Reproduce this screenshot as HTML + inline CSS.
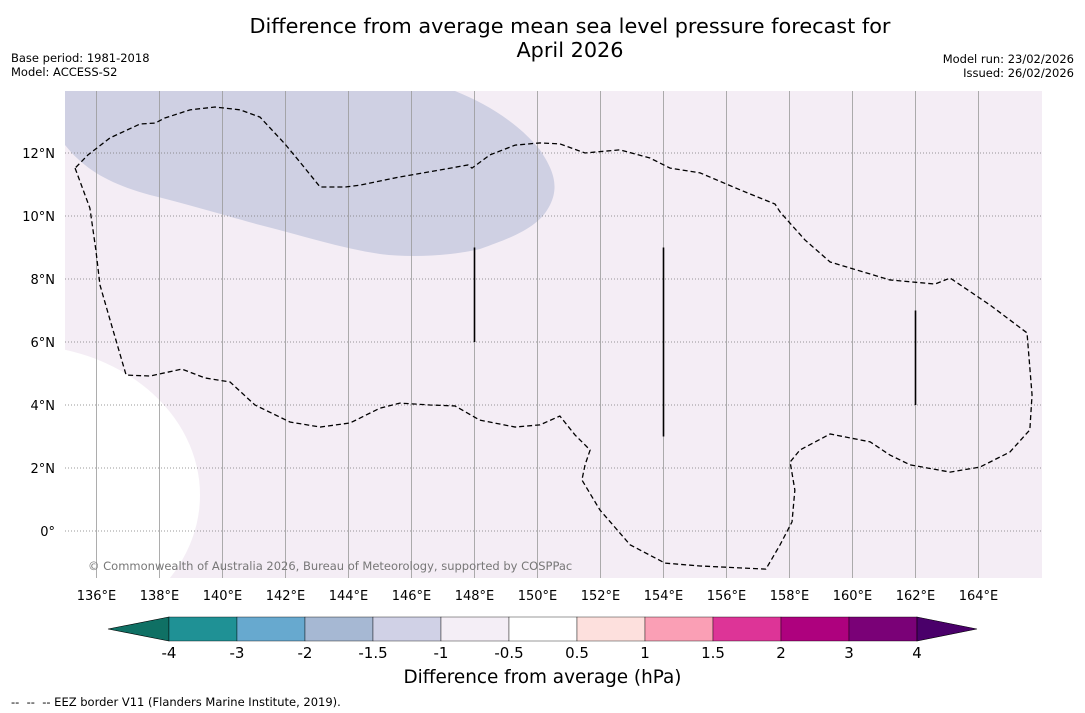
<!DOCTYPE html>
<html><head><meta charset="utf-8"><style>
body{margin:0;background:#fff;width:1085px;height:713px;overflow:hidden;font-family:"DejaVu Sans","Liberation Sans",sans-serif;position:relative}
.t{position:absolute;color:#000}
</style></head><body>
<div class="t" style="left:0;width:1140px;top:14px;text-align:center;font-size:20.8px;line-height:24px">Difference from average mean sea level pressure forecast for<br>April 2026</div>
<div class="t" style="left:11px;top:51px;font-size:11.5px;line-height:14px">Base period: 1981-2018<br>Model: ACCESS-S2</div>
<div class="t" style="right:11px;top:52px;font-size:11.5px;line-height:14px;text-align:right">Model run: 23/02/2026<br>Issued: 26/02/2026</div>
<svg id="map" width="1085" height="713" style="position:absolute;left:0;top:0" xmlns="http://www.w3.org/2000/svg"></svg>
<div class="t" style="left:0;width:1085px;top:667px;text-align:center;font-size:18.4px">Difference from average (hPa)</div>
<div class="t" style="left:11px;top:695px;font-size:11.5px">--&nbsp; --&nbsp; -- EEZ border V11 (Flanders Marine Institute, 2019).</div>
<script>
const lonTicks=[136,138,140,142,144,146,148,150,152,154,156,158,160,162,164];
const latTicks=[0,2,4,6,8,10,12];
const eezLon=[135.32,135.79,135.98,136.11,136.43,136.94,137.7,138.71,139.44,140.24,141.03,142.14,143.1,144.05,145,145.63,146.59,147.38,148.17,149.29,150.08,150.71,151.19,151.67,151.51,151.41,151.98,152.94,154.05,155.16,157.25,157.7,158.08,158.17,158.02,158.33,159.29,160.56,161.19,161.83,163.1,164.05,165,165.63,165.7,165.54,164.37,163.1,162.62,161.19,159.92,159.29,158.49,157.7,157.54,156.43,155.16,154.21,153.57,152.62,151.83,151.51,150.71,150.08,149.29,148.49,147.92,147.79,146.9,145.63,144.37,143.89,143.1,142.46,141.98,141.19,140.56,139.76,138.97,138.17,137.86,137.38,136.43,135.73,135.32];
const eezLat=[11.52,10.25,8.92,7.81,6.7,4.95,4.92,5.14,4.86,4.73,4,3.46,3.3,3.43,3.9,4.06,4,3.97,3.52,3.3,3.37,3.65,3.05,2.57,2.1,1.62,0.67,-0.44,-1.02,-1.11,-1.21,-0.44,0.29,1.3,2.19,2.57,3.08,2.83,2.41,2.1,1.87,2.03,2.51,3.21,4.32,6.29,7.17,8.03,7.84,7.97,8.35,8.54,9.24,10.13,10.38,10.83,11.37,11.52,11.84,12.1,12.03,12,12.29,12.32,12.25,11.94,11.52,11.62,11.46,11.24,10.98,10.92,10.92,11.71,12.29,13.14,13.37,13.46,13.37,13.11,12.95,12.92,12.48,11.94,11.52];
const barLon=[148,154,162];
const barLat0=[6,3,4];
const barLat1=[9,9,7];
const cbLevels=[-4,-3,-2,-1.5,-1,-0.5,0.5,1,1.5,2,3,4];
const cbColors=['#0f7064','#1f9195','#67a9cf','#a6b8d3','#d0d1e6','#f4eef6','#ffffff','#fde0dd','#fa9fb5','#dd3497','#ae017e','#7a0177','#4a006a'];
const NS='http://www.w3.org/2000/svg';
const svg=document.getElementById('map');
const X0=65,X1=1042,Y0=91,Y1=578;
const FF='DejaVu Sans, Liberation Sans, sans-serif';
const px=lon=>X0+(lon-135)*31.5;
const py=lat=>531-lat*31.5;
function el(tag,attrs,parent){const e=document.createElementNS(NS,tag);for(const k in attrs)e.setAttribute(k,attrs[k]);(parent||svg).appendChild(e);return e;}
const bg=el('rect',{x:X0,y:Y0,width:X1-X0,height:Y1-Y0,fill:'#f4edf5'});


const cp=el('clipPath',{id:'c'});el('rect',{x:X0,y:Y0,width:X1-X0,height:Y1-Y0},cp);
const g=el('g',{'clip-path':'url(#c)'});
const blue=el('path',{d:'M65,91 L455,91 C490,105 520,125 540,150 C552,168 560,185 550,205 C540,225 520,235 480,249 C450,256 410,258 380,254 C340,248 300,235 260,225 C220,214 190,205 150,195 C110,184 85,170 65,145 Z',fill:'#cfd0e3'},g);


const wh=el('ellipse',{cx:20,cy:495,rx:180,ry:150,fill:'#ffffff'},g);


lonTicks.forEach(l=>{const x=px(l);const ln=el('line',{x1:x,x2:x,y1:Y0,y2:Y1,stroke:'#999',"stroke-width":0.8},g);


const t=el('text',{x:x,y:600,'text-anchor':'middle','font-size':13,'font-family':FF});t.textContent=l+'°E';

});
latTicks.forEach(l=>{const y=py(l);const ln=el('line',{x1:X0,x2:X1,y1:y,y2:y,stroke:'#777',"stroke-width":0.8,'stroke-dasharray':'1,2'},g);


const t=el('text',{x:55,y:y+5,'text-anchor':'end','font-size':13,'font-family':FF});t.textContent=l===0?'0°':l+'°N';

});
const eez=el('polyline',{points:eezLon.map((l,i)=>px(l)+','+py(eezLat[i])).join(' '),fill:'none',stroke:'#000','stroke-width':1.3,'stroke-dasharray':'5,3'},g);


barLon.forEach((l,i)=>{const b=el('line',{x1:px(l),x2:px(l),y1:py(barLat0[i]),y2:py(barLat1[i]),stroke:'#000','stroke-width':1.6},g);

});
const cr=el('text',{x:88,y:570,'font-size':11.5,fill:'#777','font-family':FF},g);cr.textContent='© Commonwealth of Australia 2026, Bureau of Meteorology, supported by COSPPac';


const cx=v=>169+cbLevels.indexOf(v)*68;
const CY0=617,CY1=641;
const lt=el('polygon',{points:`108,629 169,${CY0} 169,${CY1}`,fill:cbColors[0],stroke:'#000','stroke-width':0.6});


for(let i=0;i<cbLevels.length-1;i++){const r=el('rect',{x:cx(cbLevels[i]),y:CY0,width:cx(cbLevels[i+1])-cx(cbLevels[i]),height:CY1-CY0,fill:cbColors[i+1],stroke:'#000','stroke-width':0.4});

}
const e4=cx(4);const rt=el('polygon',{points:`${e4},${CY0} 977,629 ${e4},${CY1}`,fill:cbColors[12],stroke:'#000','stroke-width':0.6});


cbLevels.forEach(v=>{const t=el('text',{x:cx(v),y:658,'text-anchor':'middle','font-size':15,'font-family':FF});t.textContent=String(v);

});
</script>
</body></html>
